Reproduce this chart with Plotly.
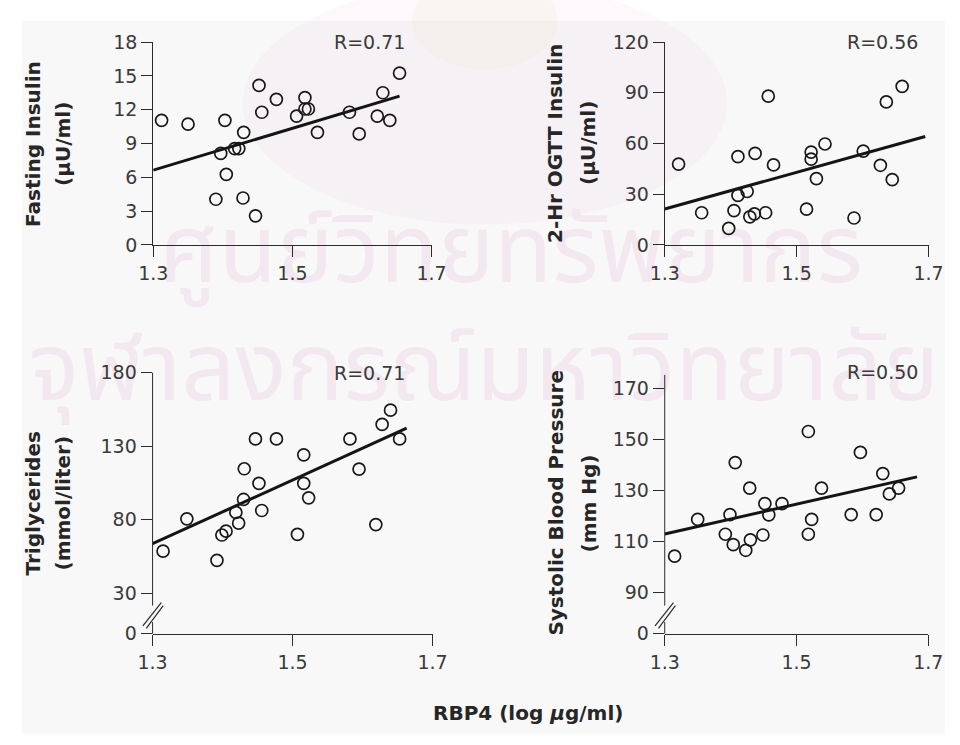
import plotly.graph_objects as go

# ---- data: RBP4 (log ug/ml) against four metabolic measures ----
fi_x = [1.312, 1.350, 1.403, 1.397, 1.405, 1.390, 1.417, 1.423, 1.430, 1.429,
        1.447, 1.452, 1.456, 1.477, 1.506, 1.518, 1.518, 1.523, 1.536, 1.582,
        1.596, 1.622, 1.630, 1.640, 1.654]
fi_y = [11.05, 10.71, 11.05, 8.12, 6.26, 4.05, 8.55, 8.55, 9.99, 4.16,
        2.58, 14.15, 11.77, 12.92, 11.43, 13.07, 12.06, 12.06, 9.99, 11.77,
        9.85, 11.43, 13.50, 11.05, 15.25]
fi_fit_x = [1.300, 1.654]
fi_fit_y = [6.63, 13.20]

ogtt_x = [1.321, 1.356, 1.397, 1.405, 1.411, 1.411, 1.425, 1.437, 1.429, 1.436,
          1.453, 1.457, 1.465, 1.515, 1.522, 1.522, 1.530, 1.543, 1.587, 1.601,
          1.627, 1.636, 1.645, 1.660]
ogtt_y = [47.8, 19.0, 9.8, 20.3, 52.2, 29.3, 31.6, 54.1, 16.6, 18.4,
          19.0, 88.0, 47.3, 21.1, 54.9, 50.7, 39.2, 59.7, 15.9, 55.5,
          47.1, 84.6, 38.6, 93.8]
ogtt_fit_x = [1.300, 1.695]
ogtt_fit_y = [21.2, 64.1]

tg_x = [1.315, 1.349, 1.392, 1.399, 1.405, 1.419, 1.423, 1.430, 1.431, 1.447,
        1.452, 1.456, 1.477, 1.507, 1.516, 1.516, 1.523, 1.582, 1.595, 1.619,
        1.628, 1.640, 1.653]
tg_y = [58.5, 80.5, 52.3, 69.5, 72.1, 84.9, 77.6, 93.7, 114.6, 134.9,
        104.7, 86.2, 134.9, 70.0, 124.1, 104.7, 94.8, 134.9, 114.4, 76.6,
        144.8, 154.5, 134.9]
tg_fit_x = [1.300, 1.663]
tg_fit_y = [63.6, 142.2]

sbp_x = [1.315, 1.350, 1.392, 1.399, 1.404, 1.407, 1.423, 1.430, 1.429, 1.449,
         1.452, 1.458, 1.478, 1.518, 1.518, 1.523, 1.538, 1.583, 1.597, 1.621,
         1.631, 1.641, 1.655]
sbp_y = [104.3, 118.7, 112.9, 120.6, 108.8, 141.0, 106.6, 110.7, 131.0, 112.6,
         124.9, 120.5, 124.9, 153.2, 112.9, 118.7, 131.0, 120.6, 145.0, 120.6,
         136.7, 128.7, 131.0]
sbp_fit_x = [1.300, 1.683]
sbp_fit_y = [113.0, 135.4]

r_labels = ["R=0.71", "R=0.56", "R=0.71", "R=0.50"]

x_ticks = [1.3, 1.5, 1.7]
fi_ticks = [0, 3, 6, 9, 12, 15, 18]
ogtt_ticks = [0, 30, 60, 90, 120]
tg_ticks = [30, 80, 130, 180]
sbp_ticks = [90, 110, 130, 150, 170]
# the lower panels use a broken axis: the bottom value is printed as "0"
tg_floor, tg_top = 2.3, 180
sbp_floor, sbp_top = 73.85, 175.4

titles = [("Fasting Insulin", "(\u03bcU/ml)"),
          ("2-Hr OGTT Insulin", "(\u03bcU/ml)"),
          ("Triglycerides", "(mmol/liter)"),
          ("Systolic Blood Pressure", "(mm Hg)")]
x_title = "RBP4 (log <i>\u03bc</i>g/ml)"

watermark = ["\u0e28\u0e39\u0e19\u0e22\u0e4c\u0e27\u0e34\u0e17\u0e22\u0e17\u0e23\u0e31\u0e1e\u0e22\u0e32\u0e01\u0e23",
             "\u0e08\u0e38\u0e2c\u0e32\u0e25\u0e07\u0e01\u0e23\u0e13\u0e4c\u0e21\u0e2b\u0e32\u0e27\u0e34\u0e17\u0e22\u0e32\u0e25\u0e31\u0e22"]

# ---- page geometry (pixels) ----
W, H = 960, 745
def fx(p):
    return p / W
def fy(p):
    return 1 - p / H

INK = "#2b2b2b"
TICK_FONT = dict(family="DejaVu Sans", size=19, color="#3a3a3a")
TITLE_FONT = dict(family="DejaVu Sans", size=20, color="#262626")
BG = "#f8f8f8"

panels = [
    # x-left, x-right, y-top, y-bottom (px)
    dict(l=142.7, r=430.0, t=32.0, b=241.0),
    dict(l=670.7, r=943.0, t=32.0, b=241.0),
    dict(l=142.0, r=431.0, t=372.7, b=641.7),
    dict(l=670.7, r=942.7, t=375.0, b=641.7),
]

fig = go.Figure()

# page-wide backdrop layer (first subplot, so it sits beneath every panel)
fig.add_trace(go.Scatter(x=[512, 484], y=[255, 376], mode="text",
                         text=watermark, textposition="middle center",
                         textfont=dict(family="Noto Sans Thai, Noto Sans, sans-serif",
                                       size=95, color="rgb(243,231,240)"),
                         xaxis="x", yaxis="y", hoverinfo="skip",
                         showlegend=False))

series = [(fi_x, fi_y, fi_fit_x, fi_fit_y),
          (ogtt_x, ogtt_y, ogtt_fit_x, ogtt_fit_y),
          (tg_x, tg_y, tg_fit_x, tg_fit_y),
          (sbp_x, sbp_y, sbp_fit_x, sbp_fit_y)]

for i, (xs, ys, lx, ly) in enumerate(series):
    sfx = str(i + 2)
    fig.add_trace(go.Scatter(x=lx, y=ly, mode="lines",
                             line=dict(color="#141414", width=3),
                             xaxis="x" + sfx, yaxis="y" + sfx,
                             showlegend=False, hoverinfo="skip"))
    fig.add_trace(go.Scatter(x=xs, y=ys, mode="markers",
                             marker=dict(symbol="circle-open", size=12,
                                         color="#181818",
                                         line=dict(width=1.7, color="#181818")),
                             xaxis="x" + sfx, yaxis="y" + sfx,
                             showlegend=False))

def xaxis(p, anchor):
    return dict(domain=[fx(p["l"]), fx(p["r"])], range=[1.3, 1.7],
                anchor=anchor, tickvals=x_ticks,
                ticktext=[f"{v:.1f}" for v in x_ticks],
                ticks="outside", ticklen=11, tickwidth=1, tickcolor=INK,
                showline=True, linecolor=INK, linewidth=1,
                showgrid=False, zeroline=False, tickfont=TICK_FONT)

def yaxis(p, anchor, rng, vals, text, line=True):
    return dict(domain=[fy(p["b"]), fy(p["t"])], range=rng, anchor=anchor,
                tickvals=vals, ticktext=text,
                ticks="outside", ticklen=11, tickwidth=1, tickcolor=INK,
                showline=line, linecolor=INK, linewidth=1,
                showgrid=False, zeroline=False, tickfont=TICK_FONT)

hidden = dict(visible=False, showgrid=False, zeroline=False, fixedrange=True)
layout = dict(
    width=W, height=H, margin=dict(l=0, r=0, t=0, b=0),
    paper_bgcolor="white", plot_bgcolor="rgba(0,0,0,0)",
    showlegend=False,
    xaxis=dict(domain=[0, 1], range=[0, W], anchor="y", **hidden),
    yaxis=dict(domain=[0, 1], range=[H, 0], anchor="x", **hidden),
    xaxis2=xaxis(panels[0], "y2"),
    yaxis2=yaxis(panels[0], "x2", [0, 18], fi_ticks, [str(v) for v in fi_ticks]),
    xaxis3=xaxis(panels[1], "y3"),
    yaxis3=yaxis(panels[1], "x3", [0, 120], ogtt_ticks, [str(v) for v in ogtt_ticks]),
    xaxis4=xaxis(panels[2], "y4"),
    yaxis4=yaxis(panels[2], "x4", [tg_floor, tg_top], [tg_floor] + tg_ticks,
                 ["0"] + [str(v) for v in tg_ticks], line=False),
    xaxis5=xaxis(panels[3], "y5"),
    yaxis5=yaxis(panels[3], "x5", [sbp_floor, sbp_top], [sbp_floor] + sbp_ticks,
                 ["0"] + [str(v) for v in sbp_ticks], line=False),
)
fig.update_layout(**layout)

shapes = []
# light page background
shapes.append(dict(type="rect", xref="paper", yref="paper", layer="below",
                   x0=fx(7), x1=1, y0=0, y1=fy(10),
                   fillcolor=BG, line=dict(width=0)))
# faint emblem behind the top row
shapes.append(dict(type="circle", xref="paper", yref="paper", layer="below",
                   x0=fx(235), x1=fx(735), y0=fy(220), y1=fy(-30),
                   fillcolor="rgba(236,200,222,0.12)", line=dict(width=0)))
shapes.append(dict(type="circle", xref="paper", yref="paper", layer="below",
                   x0=fx(410), x1=fx(560), y0=fy(60), y1=fy(-40),
                   fillcolor="rgba(230,215,175,0.10)", line=dict(width=0)))

# broken vertical axes of the lower panels
for p in panels[2:]:
    ax, b = p["l"], p["b"]
    shapes.append(dict(type="line", xref="paper", yref="paper",
                       x0=fx(ax), x1=fx(ax), y0=fy(p["t"]), y1=fy(b - 29),
                       line=dict(color=INK, width=1)))
    shapes.append(dict(type="line", xref="paper", yref="paper",
                       x0=fx(ax), x1=fx(ax), y0=fy(b - 12), y1=fy(b),
                       line=dict(color=INK, width=1)))
    for (dx0, dy0, dx1, dy1) in ((-10, -8, 9, -32), (-6.5, -5.5, 11, -29)):
        shapes.append(dict(type="line", xref="paper", yref="paper",
                           x0=fx(ax + dx0), y0=fy(b + dy0),
                           x1=fx(ax + dx1), y1=fy(b + dy1),
                           line=dict(color=INK, width=1.2)))
fig.update_layout(shapes=shapes)

ann = []
# correlation coefficients
r_pos = [(405, 32), (934, 32), (405, 373), (934, 372)]
for txt, (x, y) in zip(r_labels, r_pos):
    ann.append(dict(text=txt, x=fx(x), y=fy(y), xref="paper", yref="paper",
                    xanchor="right", yanchor="middle", showarrow=False,
                    font=TICK_FONT))
# two-line y titles
t_pos = [(19, 50, 136.5), (558, 592, 136.5), (19, 50, 507), (558, 593, 507)]
for (l1, l2), (xa, xb, yc) in zip(titles, t_pos):
    for txt, xc in ((l1, xa), (l2, xb)):
        ann.append(dict(text=f"<b>{txt}</b>", x=fx(xc), y=fy(yc),
                        xref="paper", yref="paper", textangle=-90,
                        xanchor="center", yanchor="middle", showarrow=False,
                        font=TITLE_FONT))
ann.append(dict(text=f"<b>{x_title}</b>", x=fx(530), y=fy(723),
                xref="paper", yref="paper", xanchor="center", yanchor="middle",
                showarrow=False, font=TITLE_FONT))
fig.update_layout(annotations=ann)

fig.write_html("out.html")
